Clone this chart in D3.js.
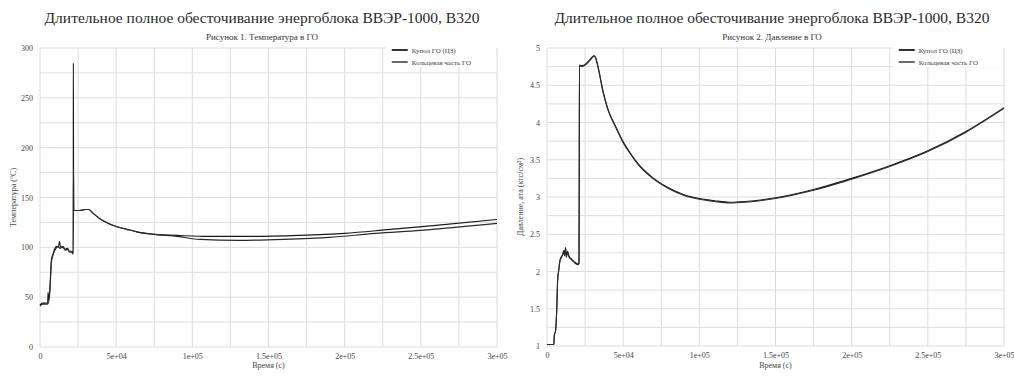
<!DOCTYPE html>
<html>
<head>
<meta charset="utf-8">
<script src="https://cdn.jsdelivr.net/npm/d3@7"></script>
<style>
  html, body { margin: 0; padding: 0; background: #fff; }
  svg { display: block; }
  text { font-family: "Liberation Serif", "DejaVu Serif", serif; }
</style>
</head>
<body>
<svg id="chart" width="1014" height="376"></svg>
<script>
// ---- data ----
const mainTitle = "Длительное полное обесточивание энергоблока ВВЭР-1000, В320";
const seriesNames = ["Купол ГО (ЦЗ)", "Кольцевая часть ГО"];
const xTickValues = [0, 50000, 100000, 150000, 200000, 250000, 300000];
const xTickLabels = ["0", "5e+04", "1e+05", "1.5e+05", "2e+05", "2.5e+05", "3e+05"];

// Temperature, dome
const tempTimeA = [0, 1500, 5000, 5300, 5600, 6500, 7500, 8500, 9500, 11000, 12000, 12800, 13500, 15000, 16500, 18000, 19500, 21000, 21800, 21900, 22100,
  26000, 30000, 32000, 35000, 40000, 45000, 50000, 57000, 65000, 75000, 90000, 110000, 140000, 170000, 200000, 230000, 260000, 300000];
const tempA = [42, 44, 44, 55, 47, 60, 88, 93, 98, 101, 100, 106, 100, 101, 98, 99, 96, 96, 94, 285, 137,
  137, 138, 138, 134, 128, 124, 121, 118, 115, 113, 112, 111, 111, 112, 114, 118, 122, 128];

// Temperature, annulus
const tempTimeB = [0, 1500, 5000, 5800, 6500, 7500, 8500, 9500, 11000, 12000, 13000, 15000, 16500, 18000, 19500, 21000, 21800, 22000, 22200,
  26000, 30000, 32000, 35000, 40000, 45000, 50000, 57000, 65000, 75000, 90000, 105000, 130000, 160000, 190000, 220000, 250000, 300000];
const tempB = [41, 43, 43, 46, 55, 85, 92, 96, 100, 101, 99, 100, 97, 98, 95, 95, 93, 180, 137,
  137, 138, 138, 134, 128, 124, 121, 118, 115, 113, 111, 108, 107, 108, 110, 114, 117, 124];

// Pressure, dome
const presTimeA = [0, 4500, 4800, 5600, 6400, 7000, 7600, 8500, 9500, 10200, 11000, 11500, 12200, 12700, 13500, 14500, 16000, 18000, 20500, 21000, 21300,
  23000, 25000, 28000, 31000, 32000, 33500, 37000, 40000, 45000, 50000, 55000, 60000, 70000, 80000, 90000, 100000, 110000, 120000, 130000,
  150000, 175000, 200000, 225000, 250000, 275000, 300000];
const presA = [1.02, 1.02, 1.15, 1.2, 1.5, 1.9, 2.0, 2.15, 2.2, 2.22, 2.28, 2.22, 2.32, 2.2, 2.27, 2.2, 2.17, 2.13, 2.1, 2.12, 4.77,
  4.76, 4.78, 4.84, 4.9, 4.87, 4.75, 4.4, 4.18, 3.95, 3.74, 3.58, 3.44, 3.25, 3.12, 3.03, 2.98, 2.95, 2.93, 2.94,
  2.99, 3.1, 3.25, 3.42, 3.62, 3.88, 4.2];

// Pressure, annulus
const presTimeB = [0, 4500, 4800, 5600, 6400, 7000, 7600, 8500, 9500, 10200, 11000, 11500, 12200, 12700, 13500, 14500, 16000, 18000, 20500, 21000, 21200, 21300,
  23000, 25000, 28000, 31000, 32000, 33500, 37000, 40000, 45000, 50000, 55000, 60000, 70000, 80000, 90000, 100000, 110000, 120000, 130000,
  150000, 175000, 200000, 225000, 250000, 275000, 300000];
const presB = [1.02, 1.02, 1.14, 1.2, 1.48, 1.88, 2.0, 2.14, 2.19, 2.23, 2.27, 2.21, 2.31, 2.19, 2.26, 2.19, 2.16, 2.12, 2.09, 2.11, 3.25, 4.76,
  4.75, 4.77, 4.83, 4.89, 4.86, 4.74, 4.39, 4.17, 3.94, 3.73, 3.57, 3.43, 3.24, 3.11, 3.02, 2.97, 2.94, 2.92, 2.93,
  2.98, 3.09, 3.24, 3.41, 3.61, 3.87, 4.19];

const svg = d3.select("#chart");

function zip(ts, vs) { return ts.map((t, i) => [t, vs[i]]); }

function drawPanel(opt) {
  const g = svg.append("g");
  const x = d3.scaleLinear().domain([0, 300000]).range([opt.left, opt.right]);
  const y = d3.scaleLinear().domain(opt.yDomain).range([opt.bottom, opt.top]);

  // titles
  g.append("text").attr("x", opt.cx).attr("y", 23).attr("text-anchor", "middle")
    .attr("font-size", 15.5).attr("fill", "#2a2a2a").text(mainTitle);
  g.append("text").attr("x", opt.cx).attr("y", 40).attr("text-anchor", "middle")
    .attr("font-size", 9).attr("fill", "#333").text(opt.subtitle);

  // grid
  const gx = d3.range(0, 300001, 25000);
  g.append("g").selectAll("line").data(gx).join("line")
    .attr("x1", d => x(d)).attr("x2", d => x(d))
    .attr("y1", opt.top).attr("y2", opt.bottom)
    .attr("stroke", "#dcdcdc").attr("stroke-width", 1);
  g.append("g").selectAll("line").data(opt.yGrid).join("line")
    .attr("x1", opt.left).attr("x2", opt.right)
    .attr("y1", d => y(d)).attr("y2", d => y(d))
    .attr("stroke", "#dcdcdc").attr("stroke-width", 1);

  // axes
  const xAxis = d3.axisBottom(x).tickValues(xTickValues)
    .tickFormat((d, i) => xTickLabels[i]).tickSize(0).tickPadding(6);
  const ax = g.append("g").attr("transform", `translate(0,${opt.bottom})`).call(xAxis);
  ax.select(".domain").remove();
  ax.selectAll("text").attr("font-size", 8).attr("fill", "#444")
    .style("font-family", "'Liberation Serif', serif");

  const yAxis = d3.axisLeft(y).tickValues(opt.yTicks).tickFormat(opt.yFmt).tickSize(0).tickPadding(7);
  const ay = g.append("g").attr("transform", `translate(${opt.left},0)`).call(yAxis);
  ay.select(".domain").remove();
  ay.selectAll("text").attr("font-size", 8).attr("fill", "#444")
    .style("font-family", "'Liberation Serif', serif");

  // axis titles
  g.append("text").attr("x", (opt.left + opt.right) / 2).attr("y", 368).attr("text-anchor", "middle")
    .attr("font-size", 8).attr("fill", "#444").text("Время (с)");
  g.append("text").attr("transform", `translate(${opt.left - 24},${(opt.top + opt.bottom) / 2}) rotate(-90)`)
    .attr("text-anchor", "middle").attr("font-size", 8).attr("fill", "#444").text(opt.yTitle);

  // lines
  const line = d3.line().x(d => x(d[0])).y(d => y(d[1])).curve(d3.curveMonotoneX);
  opt.series.forEach((s, i) => {
    g.append("path").datum(s).attr("d", line).attr("fill", "none")
      .attr("stroke", i === 0 ? "#1a1a1a" : "#2a2a2a").attr("stroke-width", 1.1)
      .attr("stroke-linejoin", "round");
  });

  // legend
  const lx = x(225000) + 3;
  g.append("rect").attr("x", lx).attr("y", opt.top - 2).attr("width", opt.right - lx - 1).attr("height", 21)
    .attr("fill", "#fff");
  seriesNames.forEach((name, i) => {
    const ly = opt.top + 2 + i * 12;
    g.append("line").attr("x1", lx + 6).attr("x2", lx + 22).attr("y1", ly).attr("y2", ly)
      .attr("stroke", "#1a1a1a").attr("stroke-width", i === 0 ? 1.8 : 1.3);
    g.append("text").attr("x", lx + 26).attr("y", ly + 2.5).attr("font-size", 7).attr("fill", "#444").text(name);
  });
}

drawPanel({
  left: 40, right: 497, top: 48, bottom: 347, cx: 262,
  yDomain: [0, 300], yGrid: d3.range(0, 301, 25), yTicks: d3.range(0, 301, 50), yFmt: d3.format("d"),
  subtitle: "Рисунок 1. Температура в ГО", yTitle: "Температура (°С)",
  series: [zip(tempTimeA, tempA), zip(tempTimeB, tempB)]
});

drawPanel({
  left: 547, right: 1004, top: 48, bottom: 346, cx: 772,
  yDomain: [1, 5], yGrid: d3.range(1, 5.001, 0.25), yTicks: d3.range(1, 5.001, 0.5), yFmt: d => d3.format("")(+d.toFixed(2)),
  subtitle: "Рисунок 2. Давление в ГО", yTitle: "Давление, ата (кгс/см²)",
  series: [zip(presTimeA, presA), zip(presTimeB, presB)]
});
</script>
</body>
</html>
